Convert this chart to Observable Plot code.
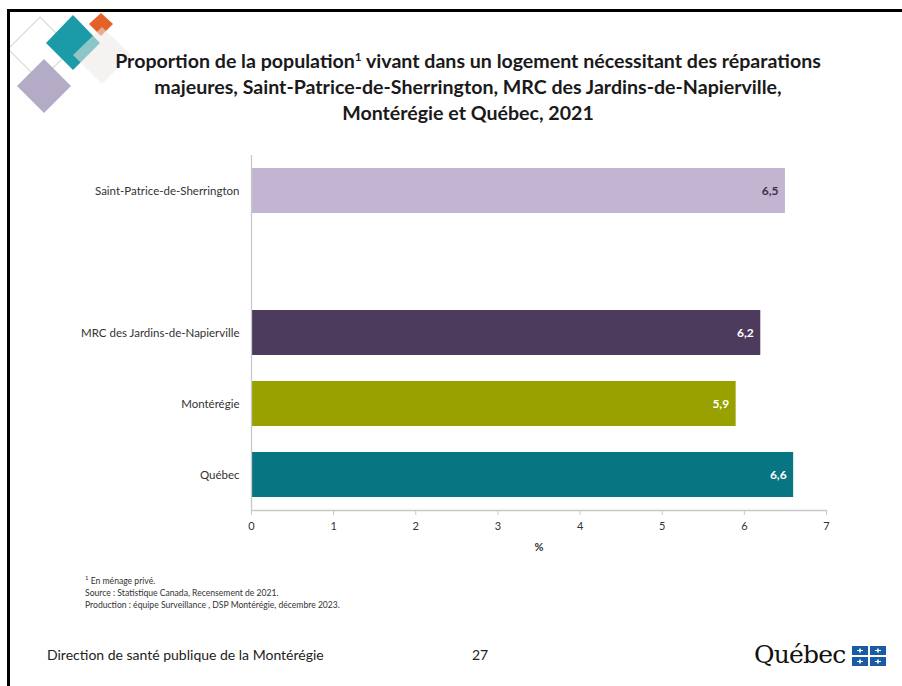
<!DOCTYPE html>
<html>
<head>
<meta charset="utf-8">
<script src="https://cdn.jsdelivr.net/npm/d3@7"></script>
<script src="https://cdn.jsdelivr.net/npm/@observablehq/plot@0.6"></script>
<style>
  html, body { margin: 0; padding: 0; background: #fff; }
  #page { position: relative; width: 902px; height: 686px; overflow: hidden; background: #fff; font-family: Lato, "Open Sans", sans-serif; }
  .frameTop { position: absolute; left: 7px; top: 9px; width: 895px; height: 3px; background: #000; }
  .frameLeft { position: absolute; left: 7px; top: 9px; width: 3px; height: 677px; background: #000; }
  #title { position: absolute; left: 0; top: 48px; width: 936px; text-align: center; font-weight: bold; font-size: 19.6px; line-height: 26px; color: #1a1a1a; }
  #title sup { font-size: 0.6em; vertical-align: 0.6em; line-height: 0; }
  #chart { position: absolute; left: 0; top: 140px; }
  #notes { position: absolute; left: 85px; top: 572px; font-size: 8.6px; line-height: 12px; color: #333; }
  #footer { position: absolute; left: 47px; top: 646px; font-size: 14px; color: #222; }
  #page-num { position: absolute; left: 472px; top: 646px; font-size: 14px; color: #222; }
  #logo { position: absolute; left: 754px; top: 640px; font-family: "DejaVu Serif", "Liberation Serif", serif; font-size: 25px; color: #111; letter-spacing: -0.8px; }
</style>
</head>
<body>
<div id="page">
  <svg style="position:absolute;left:0;top:0" width="160" height="130">
    <polygon points="40,17 72,49 40,81 8,49" fill="none" stroke="#d9ddd3" stroke-width="1.2"/>
    <polygon points="73,15 100,43 73,70 46,43" fill="#1b9aa7"/>
    <polygon points="101,13 113,24 101,36 89,24" fill="#e5612a"/>
    <polygon points="102,27 131,55 102,84 73,55" fill="#ece9e6" fill-opacity="0.55"/>
    <polygon points="44,59 71,86 44,113 17,86" fill="#b4abc6"/>
  </svg>
  <div class="frameTop"></div>
  <div class="frameLeft"></div>
  <div id="title">Proportion de la population<sup>1</sup> vivant dans un logement nécessitant des réparations<br>majeures, Saint-Patrice-de-Sherrington, MRC des Jardins-de-Napierville,<br>Montérégie et Québec, 2021</div>
  <div id="chart"></div>
  <div id="notes"><sup style="font-size:6px">1</sup> En ménage privé.<br>Source : Statistique Canada, Recensement de 2021.<br>Production : équipe Surveillance , DSP Montérégie, décembre 2023.</div>
  <div id="footer">Direction de santé publique de la Montérégie</div>
  <div id="page-num">27</div>
  <div id="logo">Québec</div>
  <svg style="position:absolute;left:852px;top:646px" width="34" height="20">
    <rect x="0" y="0" width="16" height="9" fill="#1a5ba6"/>
    <rect x="18" y="0" width="16" height="9" fill="#1a5ba6"/>
    <rect x="0" y="11" width="16" height="9" fill="#1a5ba6"/>
    <rect x="18" y="11" width="16" height="9" fill="#1a5ba6"/>
    <g fill="#fff">
      <path d="M8 1.5 L9.2 4.5 L8 7.5 L6.8 4.5 Z"/><path d="M26 1.5 L27.2 4.5 L26 7.5 L24.8 4.5 Z"/>
      <path d="M8 12.5 L9.2 15.5 L8 18.5 L6.8 15.5 Z"/><path d="M26 12.5 L27.2 15.5 L26 18.5 L24.8 15.5 Z"/>
      <rect x="5" y="4" width="6" height="1"/><rect x="23" y="4" width="6" height="1"/>
      <rect x="5" y="15" width="6" height="1"/><rect x="23" y="15" width="6" height="1"/>
    </g>
  </svg>
</div>
<script>
const regions = ["Saint-Patrice-de-Sherrington", "MRC des Jardins-de-Napierville", "Montérégie", "Québec"];
const values = [6.5, 6.2, 5.9, 6.6];
const barColors = ["#c3b4d2", "#4d3b5e", "#98a100", "#087582"];
const darkLabel = [true, false, false, false];
const spacer = "\u00a0";
const yOrder = [regions[0], spacer, regions[1], regions[2], regions[3]];
const xTicks = [0, 1, 2, 3, 4, 5, 6, 7];

const data = regions.map((r, i) => ({region: r, value: values[i], dark: darkLabel[i]}));
const fmt = v => v.toFixed(1).replace(".", ",");

const chart = Plot.plot({
  width: 902,
  height: 420,
  marginLeft: 251,
  marginRight: 76,
  marginTop: 15,
  marginBottom: 50,
  style: {fontFamily: "Lato, 'Open Sans', sans-serif", fontSize: "11px", color: "#333", background: "transparent"},
  x: {domain: [0, 7]},
  y: {domain: yOrder, paddingInner: 0.37, paddingOuter: 0.185},
  color: {domain: regions, range: barColors},
  marks: [
    Plot.barX(data, {x: "value", y: "region", fill: "region"}),
    Plot.ruleX([0], {stroke: "#c8c8c8", strokeWidth: 1.3}),
    Plot.frame({anchor: "bottom", stroke: "#c8c8c8", strokeWidth: 1.3}),
    Plot.axisX({ticks: xTicks, tickSize: 5, tickPadding: 7, stroke: "#c8c8c8", fill: "#333", tickFormat: d => String(d), label: "%", labelArrow: "none", labelAnchor: "center", labelOffset: 40}),
    Plot.axisY({tickSize: 0, tickPadding: 12, label: null, fill: "#333", fontSize: 11.5}),
    Plot.text(data.filter(d => d.dark), {x: "value", y: "region", text: d => fmt(d.value), dx: -7, textAnchor: "end", fill: "#3b3345", fontWeight: "bold", fontSize: 12}),
    Plot.text(data.filter(d => !d.dark), {x: "value", y: "region", text: d => fmt(d.value), dx: -7, textAnchor: "end", fill: "#ffffff", fontWeight: "bold", fontSize: 12})
  ]
});
document.getElementById("chart").appendChild(chart);
const lab = chart.querySelector('[aria-label="x-axis label"]');
if (lab) {
  lab.setAttribute("font-weight", "bold");
  lab.setAttribute("fill", "#333");
  const t = lab.querySelector("text") || lab;
  t.textContent = "%";
}
</script>
</body>
</html>
